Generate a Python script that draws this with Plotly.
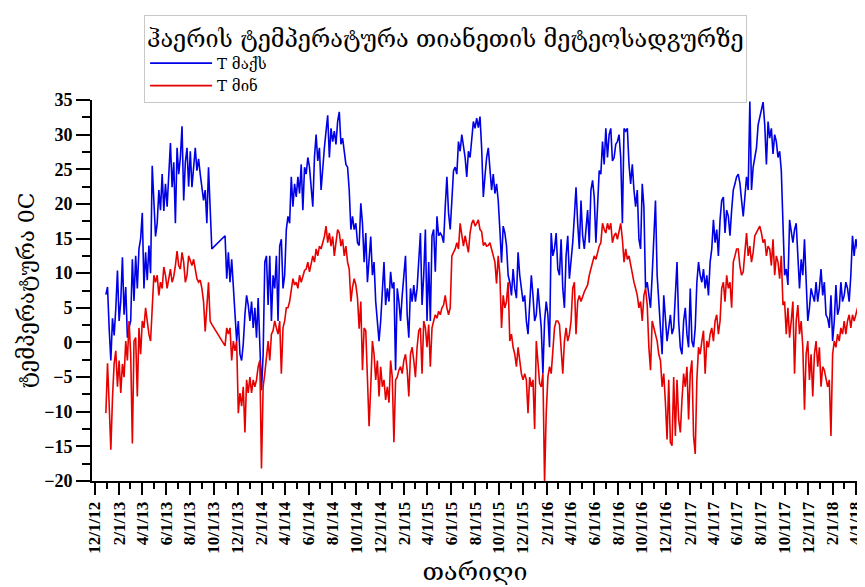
import numpy as np
import pandas as pd
import plotly.graph_objects as go

# sampling of the series (roughly every 4 days)
start_date = "2012-12-29"
step_days = 4.237

t_max = [
    6.9, 8.0, 2.0, -2.6, 3.5, 1.0, 4.9, 10.4, 3.1, 6.0,
    12.3, 4.0, 8.0, 0.7, 2.1, 3.1, 12.0, 6.0, 12.5, 7.8,
    13.5, 15.0, 18.7, 7.8, 13.0, 9.0, 14.0, 10.0, 25.5, 20.0,
    15.3, 17.2, 22.0, 19.1, 24.3, 19.0, 22.9, 19.6, 24.0, 28.8,
    22.4, 26.0, 17.2, 28.1, 24.3, 26.7, 31.2, 20.5, 26.0, 28.1,
    22.5, 27.6, 22.4, 26.0, 28.1, 24.8, 26.5, 24.3, 22.0, 20.5,
    22.0, 17.2, 25.3, 20.0, 13.5, None, None, None, None, None,
    None, None, 15.4, 9.2, 13.0, 8.7, 12.0, 8.3, 5.0, 0.2,
    3.1, -1.7, -2.6, -0.2, 4.0, 6.8, 5.4, 3.1, 5.9, 2.1,
    5.0, 0.7, 6.4, -0.7, -6.9, -1.7, 11.6, 12.5, 5.4, 12.5,
    3.1, 9.7, 7.8, 12.5, 3.1, 13.9, 14.9, 7.8, 9.7, 16.3,
    18.2, 17.2, 23.9, 19.6, 22.9, 21.0, 23.9, 21.5, 25.7, 19.1,
    25.3, 24.3, 26.7, 25.3, 22.0, 19.6, 26.7, 30.0, 26.2, 28.1,
    22.0, 25.7, 28.1, 30.5, 32.8, 26.7, 30.9, 29.0, 30.5, 28.6,
    31.9, 33.3, 28.6, 29.5, 27.6, 25.7, 25.3, 22.0, 16.3,
    18.2, 16.3, 17.2, 14.4, 14.0, 20.1, 17.2, 11.6, 15.8, 8.7,
    12.5, 15.3, 9.7, 11.6, 5.9, 3.1, 0.2, 3.1, 7.3, 11.6,
    5.4, 7.8, 5.9, 10.2, 7.8, 8.7, -4.0, 7.8, 5.9, 3.1,
    6.8, 9.7, 12.5, 4.0, 0.7, 7.8, 5.9, 8.3, 5.9, 7.8,
    11.6, 15.8, 5.4, 9.7, 16.3, 3.1, 11.6, 3.1, 15.4, 16.3,
    10.2, 18.2, 15.4, 15.8, 15.4, 14.4, 19.6, 23.9, 18.7, 16.3,
    20.5, 24.8, 25.3, 24.3, 29.0, 27.6, 30.0, 28.6, 26.7, 23.9,
    27.6, 26.7, 29.0, 31.9, 30.9, 32.4, 31.0, 32.6,
    28.0, 21.0, 24.0, 26.7, 28.1, 25.5, 22.0, 24.3, 21.5, 22.9,
    20.5, 16.3, 11.5, 16.8, 15.8, 14.0, 9.7, 8.7, 6.8, 10.6,
    7.8, 6.4, 13.0, 9.7, 7.8, 5.9, 6.8, 3.1, 1.2, 5.9,
    9.7, 6.8, 3.1, 4.0, 7.8, 5.0, 2.1, -4.5, 3.1, 5.9,
    4.0, -0.7, 15.8, 12.5, 13.5, 15.8, 10.6, 9.7, 14.9, 7.8,
    5.0, 12.5, 15.4, 9.2, 11.6, 14.4, 18.2, 22.4, 17.2, 13.5,
    20.5, 15.4, 13.5, 15.8, 19.1, 14.4, 22.0, 23.4, 21.0, 14.4,
    20.5, 24.8, 24.3, 29.0, 25.7, 30.9, 26.7, 30.0,
    30.9, 26.2, 26.7, 28.6, 29.0, 30.0, 26.7, 17.2, 30.9, 30.5,
    30.9, 25.7, 22.9, 25.7, 22.0, 19.6, 22.0, 14.9, 13.5, 22.9,
    19.6, 7.8, 8.7, 6.8, 5.0, 9.7, 14.9, 20.5, 9.7, 5.9,
    3.1, -1.7, 6.8, 3.1, 0.2, 2.1, 4.0, 1.2, 2.1, 6.8,
    11.6, 3.1, -0.7, -1.7, 3.1, 5.0, 1.2, -0.7, 7.8, 0.2,
    -0.7, 2.1, 8.7, 11.6, 9.7, 8.7, 10.6, 7.8, 9.7, 6.8,
    11.6, 13.5, 17.7, 14.4, 16.3, 12.5, 17.7, 20.5, 21.0, 15.8,
    19.1, 18.2, 15.4, 19.1, 22.0, 22.9, 23.9, 24.3,
    23.0, 20.5, 18.2, 21.0, 23.9, 22.0, 34.8, 22.0, 25.3, 26.7,
    28.1, 31.4, 32.4, 33.8, 34.7, 31.4, 25.7, 31.9, 29.5, 30.9,
    27.2, 30.0, 29.0, 26.7, 27.6, 24.8, 16.3, 9.7, 10.6, 8.3,
    17.7, 15.8, 14.4, 16.3, 17.2, 12.5, 7.8, 12.0, 9.7, 14.9,
    8.7, 3.1, 5.0, 7.8, 6.8, 5.9, 8.7, 5.9, 7.8, 10.6,
    6.8, 8.7, 4.0, 3.5, 2.1, 6.8, 0.2, 3.1, 8.3, 4.0,
    5.0, 8.7, 5.9, 6.8, 8.7, 7.8, 5.9, 9.7, 15.4, 12.5,
    14.9, 13.5, 22.0, 19.6,
]

t_min = [
    -10.2, -3.0, -9.0, -15.5, -8.0, -3.0, -1.2, -6.4, -2.6, -7.3,
    -3.1, -5.0, 0.2, -2.6, 3.1, -1.7, -14.6, 0.2, 0.7, -7.8,
    2.1, -1.7, 3.1, 2.1, 5.0, 3.1, 1.2, 0.2, 5.9, 9.7,
    8.7, 9.7, 6.8, 8.7, 7.8, 10.9, 9.7, 7.8, 9.2, 10.6,
    8.7, 9.5, 11.1, 13.2, 11.1, 10.6, 13.0, 11.6, 8.7, 9.7,
    12.5, 11.6, 11.1, 12.0, 10.6, 9.2, 8.7, 9.0, 7.8, 5.9,
    1.6, 6.0, 8.7, 3.1, 2.6, None, None, None, None, None,
    None, None, -0.5, 2.1, 1.2, 2.1, -2.6, 0.2, -1.2, 0.2,
    -10.2, -7.3, -9.2, -6.4, -13.0, -5.4, -7.3, -5.0, -7.3, -5.4,
    -6.4, -5.4, -3.5, -2.6, -18.2, -6.4, -4.5, -1.7, 0.2, -2.6,
    1.2, 1.7, 3.1, 2.1, 1.2, 3.1, -4.5, 2.1, 3.1, 5.0,
    5.0, 5.9, 7.8, 9.2, 8.3, 8.7, 7.8, 9.7, 8.7, 9.7,
    10.4, 10.6, 11.6, 10.2, 11.6, 12.5, 11.6, 13.5, 12.5, 13.9,
    13.5, 14.4, 15.3, 16.8, 14.4, 15.8, 13.9, 15.3, 12.5, 14.4,
    16.3, 15.8, 13.9, 14.9, 12.5, 13.9, 11.6, 10.6, 5.9,
    8.0, 9.2, 8.3, 6.4, 2.0, 5.9, -4.0, 2.1, 1.7, -6.4,
    -12.1, -6.4, 0.2, -1.7, -5.4, -2.6, -7.8, -3.5, -6.4, -5.4,
    -8.3, -6.4, -8.7, -2.6, -5.0, -14.4, -5.4, -5.0, -4.0, -3.5,
    -4.5, -2.6, -1.7, -4.0, -7.8, -1.7, -0.7, -2.6, -5.0, -0.7,
    1.7, 2.1, -4.5, 3.1, 2.1, -0.7, 2.6, -3.5, 2.1, 3.1,
    4.0, 3.5, 4.5, 4.0, 5.0, 5.4, 6.8, 5.0, 4.0, 5.0,
    12.5, 13.0, 13.5, 14.4, 13.5, 17.2, 15.4, 13.9, 15.4, 14.4,
    13.0, 15.8, 17.2, 17.7, 16.8, 17.2, 17.7, 16.3,
    16.0, 14.0, 14.4, 13.9, 14.0, 14.4, 13.5, 12.5, 11.6, 8.5,
    12.5, 9.7, 2.1, 6.8, 5.0, 5.9, 8.7, 0.2, 1.2, -0.7,
    -1.7, -3.5, -0.7, -2.6, -4.5, -5.4, -4.5, -5.4, -10.2, -5.0,
    -6.4, -5.4, -12.5, 0.2, -3.5, -5.9, -6.4, -4.5, -20.1, -10.2,
    -5.0, -3.5, -4.5, -0.7, 2.1, 3.1, 3.1, 2.6, -0.7, -4.5,
    0.2, 2.1, 0.2, 1.2, 3.1, 7.8, 8.7, 1.2, 5.9, 6.8,
    5.9, 6.8, 7.3, 7.8, 8.3, 9.7, 10.6, 11.6, 12.5, 12.0,
    13.0, 13.9, 14.4, 17.2, 16.3, 15.8, 17.2, 16.3,
    17.2, 14.4, 15.4, 15.8, 14.9, 16.3, 17.2, 14.9, 11.6, 13.5,
    12.0, 12.5, 11.1, 9.7, 8.7, 7.8, 6.8, 5.0, 5.9, 3.1,
    6.8, 7.8, 5.4, -0.7, -4.0, 3.1, 2.1, 1.2, 0.2, -1.7,
    -2.6, -6.4, -4.5, -8.7, -14.0, -5.4, -14.4, -14.9, -5.0, -13.5,
    -5.4, -11.1, -13.0, -8.3, -4.5, -6.4, -3.5, -11.1, -4.5, -2.6,
    -13.5, -16.1, -5.4, -0.7, -1.7, 0.2, 1.7, -4.5, 0.2, -0.7,
    1.2, 2.1, 0.2, 3.1, 4.0, 1.2, 3.1, 7.8, 8.7, 5.9,
    9.7, 7.8, 8.7, 5.0, 11.6, 12.5, 13.5, 13.5,
    11.0, 9.7, 10.2, 13.0, 15.8, 12.5, 13.9, 11.6, 13.0, 15.4,
    15.8, 16.3, 16.8, 15.8, 14.4, 14.9, 12.5, 13.9, 13.5, 11.1,
    14.9, 9.7, 12.5, 11.6, 9.2, 12.5, 5.4, 5.9, 1.2, 5.0,
    0.7, 3.1, 5.9, -4.5, 3.1, 5.4, 1.2, 3.1, -0.7, -9.7,
    -1.7, 0.2, -5.4, -1.7, -7.8, -1.7, 0.2, -3.5, -0.7, -6.4,
    -3.5, -4.0, -5.0, -6.4, -5.4, -13.5, -1.7, 0.2, -0.7, 1.2,
    0.2, 2.1, 1.2, 3.1, 1.2, 3.1, 4.0, 2.1, 4.0, 3.1,
    4.0, 5.0, 5.9, 5.4,
]

assert len(t_max) == len(t_min), (len(t_max), len(t_min))

series_names = ["T მაქს", "T მინ"]
legend_title = "ჰაერის ტემპერატურა თიანეთის მეტეოსადგურზე"
x_title = "თარიღი"
y_title = "ტემპერატურა 0C"

dates = pd.Timestamp(start_date) + pd.to_timedelta(np.arange(len(t_max)) * step_days, unit="D")

geo_font = "DejaVu Serif, DejaVu Sans, serif"
tick_font = "Liberation Serif, Times New Roman, serif"

fig = go.Figure()
fig.add_trace(go.Scatter(x=dates, y=t_max, mode="lines", name=series_names[0],
                         line=dict(color="#0000E6", width=1.6), connectgaps=True))
fig.add_trace(go.Scatter(x=dates, y=t_min, mode="lines", name=series_names[1],
                         line=dict(color="#E60000", width=1.6), connectgaps=True))

# the page body has an 8px margin, so the figure is laid out 8px up/left
fig.update_layout(
    width=865, height=587,
    margin=dict(l=84, r=8, t=85, b=114),
    paper_bgcolor="white", plot_bgcolor="white",
    showlegend=True,
    legend=dict(
        title=dict(text=legend_title, font=dict(family=geo_font, size=23.4, color="black"), side="top"),
        font=dict(family=geo_font, size=15, color="black"),
        x=0.068, y=1.222, xanchor="left", yanchor="top",
        itemwidth=62,
        bgcolor="white", bordercolor="#c8c8c8", borderwidth=1,
    ),
)

fig.update_xaxes(
    type="date",
    range=["2012-11-23 12:00", "2018-04-07 00:00"],
    showline=True, linecolor="black", linewidth=2,
    showgrid=False, zeroline=False,
    ticks="outside", ticklen=12, tickwidth=2, tickcolor="black",
    tick0="2012-12-01", dtick="M2",
    tickformat="%-m/%-d/%y", tickangle=-90,
    tickfont=dict(family=tick_font, size=17, color="black", weight="bold"),
    minor=dict(ticks="outside", ticklen=6, tickwidth=2, tickcolor="black",
               tick0="2012-12-01", dtick="M1", showgrid=False),
    title=dict(text=x_title, font=dict(family=geo_font, size=25, color="black"), standoff=10),
)

fig.update_yaxes(
    range=[-20, 35],
    showline=True, linecolor="black", linewidth=2,
    showgrid=False, zeroline=False,
    ticks="outside", ticklen=14, tickwidth=2, tickcolor="black",
    tick0=0, dtick=5,
    tickfont=dict(family=tick_font, size=18, color="black", weight="bold"),
    minor=dict(ticks="outside", ticklen=8, tickwidth=2, tickcolor="black",
               dtick=2.5, showgrid=False),
    title=dict(text=y_title, font=dict(family=geo_font, size=22, color="black"), standoff=3),
)

fig.write_html("out.html")
